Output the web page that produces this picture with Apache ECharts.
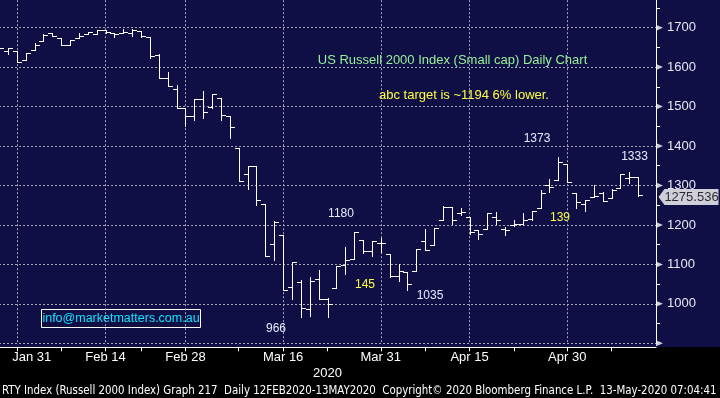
<!DOCTYPE html>
<html><head><meta charset="utf-8">
<script src="https://cdn.jsdelivr.net/npm/echarts@6/dist/echarts.min.js"></script>
<style>
html,body{margin:0;padding:0;background:#000;}
#c{width:720px;height:398px;background:linear-gradient(to bottom,#0f0f46 0px,#0f0f46 347px,#000 347px,#000 398px);}
</style>
</head><body><div id="c"></div>
<script>
// ---- data ----
const dates = ['2020-01-29','2020-01-30','2020-01-31','2020-02-03','2020-02-04','2020-02-05','2020-02-06','2020-02-07','2020-02-10','2020-02-11','2020-02-12','2020-02-13','2020-02-14','2020-02-18','2020-02-19','2020-02-20','2020-02-21','2020-02-24','2020-02-25','2020-02-26','2020-02-27','2020-02-28','2020-03-02','2020-03-03','2020-03-04','2020-03-05','2020-03-06','2020-03-09','2020-03-10','2020-03-11','2020-03-12','2020-03-13','2020-03-16','2020-03-17','2020-03-18','2020-03-19','2020-03-20','2020-03-23','2020-03-24','2020-03-25','2020-03-26','2020-03-27','2020-03-30','2020-03-31','2020-04-01','2020-04-02','2020-04-03','2020-04-06','2020-04-07','2020-04-08','2020-04-09','2020-04-13','2020-04-14','2020-04-15','2020-04-16','2020-04-17','2020-04-20','2020-04-21','2020-04-22','2020-04-23','2020-04-24','2020-04-27','2020-04-28','2020-04-29','2020-04-30','2020-05-01','2020-05-04','2020-05-05','2020-05-06','2020-05-07','2020-05-08','2020-05-11','2020-05-12'];
const opens  = [1648,1641,1642,1617,1643,1667,1686,1673,1655,1673,1683,1683,1694,1686,1686,1687,1692,1676,1630,1572,1544,1496,1476,1519,1499,1522,1476,1395,1329,1349,1253,1152,1175,1043,1056,988,1064,1013,1041,1099,1114,1162,1133,1155,1127,1070,1081,1084,1158,1150,1213,1246,1231,1221,1186,1190,1219,1190,1201,1203,1214,1243,1301,1315,1354,1280,1254,1271,1280,1267,1294,1320,1322];
const highs  = [1652,1648,1642,1635,1660,1683,1687,1673,1668,1686,1688,1694,1694,1686,1697,1696,1692,1676,1633,1587,1555,1496,1519,1540,1532,1522,1476,1395,1349,1349,1253,1210,1175,1107,1061,1069,1086,1015,1096,1145,1181,1162,1158,1167,1127,1101,1081,1138,1190,1193,1248,1246,1244,1221,1186,1230,1233,1195,1212,1230,1236,1288,1317,1372,1354,1280,1262,1302,1283,1290,1329,1334,1322];
const lows   = [1644,1633,1612,1617,1643,1667,1678,1655,1655,1673,1683,1683,1687,1676,1686,1680,1676,1623,1572,1552,1496,1450,1465,1472,1496,1465,1420,1312,1291,1250,1122,1111,1036,1013,967,970,1013,967,1041,1076,1114,1128,1121,1131,1069,1057,1035,1084,1136,1150,1213,1203,1225,1178,1165,1190,1202,1175,1198,1203,1212,1243,1284,1315,1309,1243,1235,1271,1260,1267,1294,1306,1273];
const closes = [1648,1648,1612,1635,1656,1681,1678,1655,1668,1679,1688,1694,1688,1683,1690,1694,1678,1627,1572,1552,1496,1476,1519,1486,1532,1479,1448,1312,1349,1263,1122,1208,1036,1107,990,1058,1013,1000,1096,1111,1181,1133,1158,1155,1070,1084,1050,1138,1137,1193,1246,1212,1233,1183,1176,1230,1213,1187,1202,1212,1235,1282,1297,1359,1309,1258,1262,1273,1260,1289,1329,1322,1275.536];
const padSlots = ['pad1','pad2'];
const labelDates = ['2020-01-31','2020-02-14','2020-02-28','2020-03-16','2020-03-31','2020-04-15','2020-04-30'];
const tickDates = ['2020-01-31','2020-02-07','2020-02-14','2020-02-21','2020-02-28','2020-03-09','2020-03-16','2020-03-23','2020-03-31','2020-04-07','2020-04-15','2020-04-22','2020-04-30','2020-05-07'];
const yTicks = [900,1000,1100,1200,1300,1400,1500,1600,1700];
const yLabels = [1000,1100,1200,1300,1400,1500,1600,1700];
const lastPrice = 1275.536;
const titleText = 'US Russell 2000 Index (Small cap) Daily Chart';
const noteText = 'abc target is ~1194 6% lower.';
const footerText = 'RTY Index (Russell 2000 Index) Graph 217  Daily 12FEB2020-13MAY2020  Copyright\u00A9 2020 Bloomberg Finance L.P.  13-May-2020 07:04:41';

// ---- build ----
const cats = dates.concat(padSlots);
const ohlc = dates.map((d,i)=>[i, opens[i], highs[i], lows[i], closes[i]]);
const MON = ['Jan','Feb','Mar','Apr','May','Jun','Jul','Aug','Sep','Oct','Nov','Dec'];
const fmt = d => MON[+d.slice(5,7)-1] + ' ' + (+d.slice(8,10));
const FONT = '"Liberation Sans", Arial, sans-serif';

// fit footer width
const cv = document.createElement('canvas').getContext('2d');
cv.font = '12px "Liberation Sans Narrow", "DejaVu Sans Condensed", sans-serif';
const fw = cv.measureText(footerText).width;
const footerSize = Math.min(13, 12 * 715 / fw);

const chart = echarts.init(document.getElementById('c'), null, {renderer:'canvas'});
const snap = v => Math.round(v) + 0.5;
const txt = (x, y, t, color, size) => ({type:'text', x:x, y:y, silent:true, style:{text:t, fill:color, font: size + 'px ' + FONT, textAlign:'center', textVerticalAlign:'middle', align:'center', verticalAlign:'middle'}});
const gridLine = {color: '#a4a4b2', width: 1, type: [2, 2]};

chart.setOption({
  backgroundColor: 'transparent',
  animation: false,
  grid: {left: -1, right: 64, top: -11.83, bottom: 54.7, containLabel: false, outerBoundsMode: 'none'},
  xAxis: {
    type: 'category', data: cats, boundaryGap: false, offset: 4,
    axisLine: {show: true, lineStyle: {color: '#ffffff', width: 1}},
    axisTick: {show: true, length: 4, interval: (i, v) => tickDates.indexOf(v) >= 0, lineStyle: {color: '#ffffff', width: 1}},
    axisLabel: {
      show: true, margin: 4, color: '#ffffff', fontSize: 13, fontFamily: FONT,
      interval: (i, v) => labelDates.indexOf(v) >= 0,
      formatter: v => v === labelDates[0] ? '{pad|' + fmt(v) + '}' : fmt(v),
      rich: {pad: {padding: [0, 0, 0, 30], color: '#ffffff', fontSize: 13, fontFamily: FONT}}
    },
    splitLine: {show: true, interval: (i, v) => labelDates.indexOf(v) >= 0, lineStyle: gridLine}
  },
  yAxis: {
    type: 'value', position: 'right', min: 900, max: 1800, interval: 100,
    axisLine: {show: true, lineStyle: {color: '#ffffff', width: 1}},
    axisTick: {show: false},
    minorTick: {show: true, splitNumber: 2, length: 4, lineStyle: {color: '#ffffff', width: 1}},
    minorSplitLine: {show: false},
    axisLabel: {show: true, margin: 11, color: '#e8e8f2', fontSize: 13, fontFamily: FONT,
      formatter: v => yLabels.indexOf(v) >= 0 ? String(v) : ''},
    splitLine: {show: true, lineStyle: gridLine}
  },
  series: [
    {
      type: 'custom', data: ohlc, encode: {x: 0, y: [1, 2, 3, 4]}, clip: true, silent: true,
      renderItem: function (params, api) {
        const i = api.value(0);
        const o = api.coord([i, api.value(1)]);
        const h = api.coord([i, api.value(2)]);
        const l = api.coord([i, api.value(3)]);
        const c = api.coord([i, api.value(4)]);
        const w = api.size([1, 0])[0] * 0.5;
        const x = snap(o[0]);
        const st = {stroke: '#ffffff', lineWidth: 1};
        return {type: 'group', children: [
          {type: 'line', shape: {x1: x, y1: Math.round(h[1]), x2: x, y2: Math.round(l[1]) + 1}, style: st},
          {type: 'line', shape: {x1: x - w, y1: snap(o[1]), x2: x, y2: snap(o[1])}, style: st},
          {type: 'line', shape: {x1: x, y1: snap(c[1]), x2: x + w, y2: snap(c[1])}, style: st}
        ]};
      }
    },
    {
      type: 'scatter', data: yTicks.map(v => [cats.length - 1, v]), clip: false, silent: true, z: 5,
      symbol: 'path://M0,0L7,3.5L0,7Z', symbolSize: [7, 6], symbolOffset: [3.5, 0],
      itemStyle: {color: '#ffffff'}
    },
    {
      type: 'scatter', data: [[cats.length - 1, lastPrice]], clip: false, silent: true, z: 6,
      symbol: 'path://M0,8L6,0L60,0L60,16L6,16Z', symbolSize: [60, 16], symbolOffset: [32.5, 2],
      itemStyle: {color: '#ffffff'},
      label: {show: true, position: 'inside', offset: [3, 0], color: '#000000', fontSize: 13, fontFamily: FONT,
        formatter: () => lastPrice.toFixed(3)}
    }
  ],
  graphic: [
    txt(452.5, 60, titleText, '#98f098', 13),
    txt(464, 95, noteText, '#ffff40', 13),
    txt(537, 139, '1373', '#e6ecff', 12),
    txt(634.5, 157, '1333', '#e6ecff', 12),
    txt(560, 218, '139', '#ffff40', 12),
    txt(341, 213.5, '1180', '#e6ecff', 12),
    txt(365, 285, '145', '#ffff40', 12),
    txt(430, 296, '1035', '#e6ecff', 12),
    txt(276, 329, '966', '#e6ecff', 12),
    {type: 'rect', silent: true, shape: {x: 41.5, y: 309.5, width: 159, height: 18}, style: {fill: 'transparent', stroke: '#ffffff', lineWidth: 1}},
    txt(121, 318.5, 'info@marketmatters.com.au', '#10e4ff', 12.5),
    txt(327.5, 373, '2020', '#ffffff', 13),
    {type: 'text', x: 2, y: 391, silent: true, style: {text: footerText, fill: '#ffffff', font: footerSize.toFixed(2) + 'px "Liberation Sans Narrow", "DejaVu Sans Condensed", sans-serif', textAlign: 'left', textVerticalAlign: 'middle', align: 'left', verticalAlign: 'middle'}}
  ]
});
</script>
</body></html>
